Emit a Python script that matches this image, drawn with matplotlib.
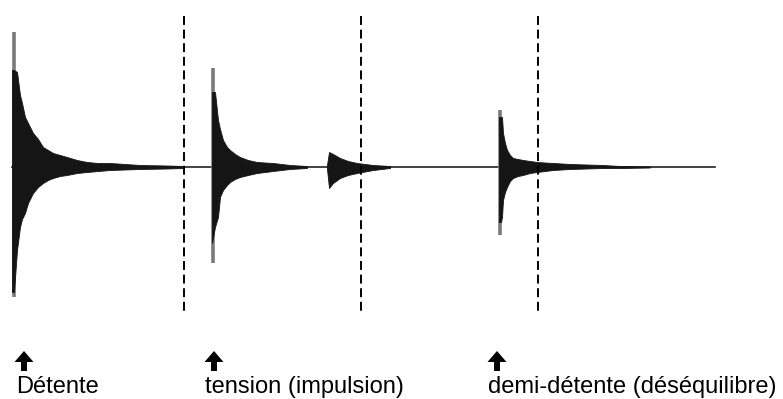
import matplotlib.pyplot as plt

# waveform envelopes (time in px, amplitude up/down from the rest line)
t1 = [12, 14, 17, 20, 22, 25, 28, 33, 38, 43, 48, 53, 60, 67, 77, 87, 98, 110, 140, 167, 184]
top1 = [97, 97, 95, 72, 64, 50, 44, 34, 28, 20, 17, 14, 12, 10, 7, 5, 4, 4, 2, 1.5, 1]
bot1 = [-125, -125, -83, -60, -52, -46, -36, -26, -20, -16, -13, -11, -9, -8, -6, -5, -4, -3, -2, -1.5, -1]

t2 = [212, 215, 218, 220, 223, 227, 230, 235, 240, 248, 257, 265, 273, 290, 307]
top2 = [75, 75, 47, 38, 27, 20, 17, 13, 10, 7, 5, 4.5, 4, 2, 1]
bot2 = [-76, -60, -50, -30, -23, -18, -15, -12, -10, -8, -6, -5, -4, -2, -1]

t3 = [327, 329, 333, 340, 348, 357, 373, 390]
top3 = [2, 15, 13, 9, 6, 4, 2, 1]
bot3 = [-2, -21, -16, -11, -8, -6, -3, -1]

t4 = [499, 501, 502, 503, 505, 507, 510, 513, 518, 523, 530, 537, 553, 570, 603, 620, 650]
top4 = [50, 50, 50, 34, 24, 17, 12, 9, 8, 7, 6, 5, 4, 3, 2, 1, 0.5]
bot4 = [-55, -55, -50, -33, -25, -20, -14, -11, -9, -8, -6, -5, -3, -2, -1, -1, -0.5]

# thin grey attack spikes at the start of each burst: (time, top, bottom)
spike_t = [14, 213, 500]
spike_top = [135, 99, 57]
spike_bot = [-130, -96, -68]

dividers = [184, 361, 538]
labels = ['Détente', 'tension (impulsion)', 'demi-détente (déséquilibre)']
label_x = [16, 205, 488]
arrow_x = [24, 214, 497]

fig = plt.figure(figsize=(7.83, 3.99), dpi=100)
ax = fig.add_axes([0, 0, 1, 1])
ax.set_xlim(0, 783)
ax.set_ylim(-232, 167)
ax.axis('off')

wave = '#151515'
ax.plot([12, 715], [0, 0], color='#222222', lw=1.2, zorder=2)
for t, top, bot in [(t1, top1, bot1), (t2, top2, bot2), (t3, top3, bot3), (t4, top4, bot4)]:
    ax.fill_between(t, bot, top, color=wave, lw=0.6, edgecolor=wave, zorder=3)
ax.vlines(spike_t, spike_bot, spike_top, color='#7a7a7a', lw=2.6, zorder=2)

for x in dividers:
    ax.plot([x, x], [151, -146], color='black', lw=1.4, dashes=(4.6, 2.4), zorder=4)

for x, ax_, lab in zip(label_x, arrow_x, labels):
    ax.arrow(ax_, -204, 0, 20, width=6, head_width=19, head_length=11,
             length_includes_head=True, color='black', lw=0)
    ax.text(x, -226, lab, fontsize=17, family='Liberation Sans', va='baseline', ha='left')

fig.savefig('out.png', dpi=100)
